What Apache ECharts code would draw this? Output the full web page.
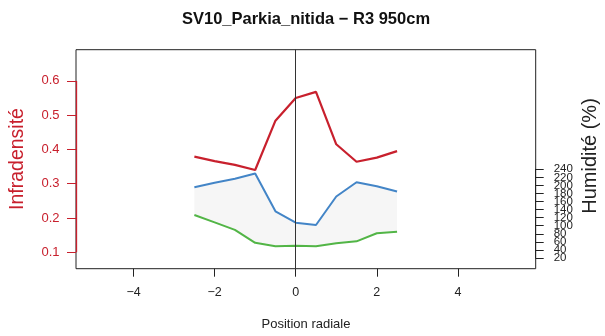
<!DOCTYPE html>
<html>
<head>
<meta charset="utf-8">
<script src="https://cdn.jsdelivr.net/npm/echarts@6/dist/echarts.min.js"></script>
<style>html,body{margin:0;padding:0;background:#fff}#c{width:605px;height:336px}</style>
</head>
<body>
<div id="c"></div>
<script>
var positions = [-2.5, -2, -1.5, -1, -0.5, 0, 0.5, 1, 1.5, 2, 2.5];
var infradensite = [0.379, 0.366, 0.355, 0.340, 0.484, 0.550, 0.568, 0.415, 0.364, 0.376, 0.395];
var humiditeHaut = [195.6, 206.8, 216.7, 229.6, 135.8, 107.5, 101.8, 172.5, 208.0, 197.8, 184.9];
var humiditeBas = [126.6, 108.5, 89.9, 57.7, 49.3, 50.5, 49.3, 56.7, 61.4, 81.3, 85.2];
var xTicks = [-4, -2, 0, 2, 4];
var yTicks = [0.1, 0.2, 0.3, 0.4, 0.5, 0.6];
var hTicks = [20, 40, 60, 80, 100, 120, 140, 160, 180, 200, 220, 240];

var FONT = 'Liberation Sans';
var RED = '#C8202D', BLUE = '#4385C7', GREEN = '#52B546';
var xMin = -5.42, xMax = 5.92;

function pts(ys) { return positions.map(function (x, i) { return [x, ys[i]]; }); }
var hTicksA = hTicks.filter(function (v, i) { return i % 2 === 0; });
var hTicksB = hTicks.filter(function (v, i) { return i % 2 === 1; });

function hAxis(labels, showLine) {
  return {gridIndex: 1, type: 'value', position: 'right', min: 20, max: 240, splitLine: {show: false},
    axisLine: {show: showLine, onZero: false, lineStyle: {color: '#222'}},
    axisTick: {show: showLine, length: 8, customValues: hTicks, lineStyle: {color: '#222'}},
    axisLabel: {customValues: labels, margin: 18, color: '#222', fontFamily: FONT, fontSize: 11.5,
      hideOverlap: false, showMinLabel: true, showMaxLabel: true}};
}

var chart = echarts.init(document.getElementById('c'), null, {renderer: 'canvas'});
chart.setOption({
  animation: false,
  backgroundColor: '#fff',
  grid: [
    {left: 76, right: 69.3, top: 49.7, bottom: 67.3, show: true, borderColor: '#222', borderWidth: 1, backgroundColor: 'transparent'},
    {left: 76, right: 69.3, top: 169.3, bottom: 78, show: false}
  ],
  xAxis: [
    {gridIndex: 0, type: 'value', min: xMin, max: xMax, splitLine: {show: false},
     axisLine: {show: false, onZero: false},
     axisTick: {show: true, length: 8, customValues: xTicks, lineStyle: {color: '#222'}},
     axisLabel: {customValues: xTicks, margin: 17, color: '#222', fontFamily: FONT, fontSize: 12.5,
       formatter: function (v) { return String(v).replace('-', '\u2212'); }}},
    {gridIndex: 1, type: 'value', min: xMin, max: xMax, show: false, axisLine: {onZero: false}}
  ],
  yAxis: [
    {gridIndex: 0, type: 'value', position: 'left', min: 0.052, max: 0.691, splitLine: {show: false},
     axisLine: {show: false, onZero: false},
     axisTick: {show: true, length: 9, customValues: yTicks, lineStyle: {color: RED}},
     axisLabel: {customValues: yTicks, margin: 16.5, color: RED, fontFamily: FONT, fontSize: 13,
       formatter: function (v) { return v.toFixed(1); }}},
    hAxis(hTicksA, true),
    hAxis(hTicksB, false)
  ],
  series: [
    {type: 'custom', xAxisIndex: 1, yAxisIndex: 1, data: [0], silent: true, clip: false, z: 1,
     renderItem: function (params, api) {
       var poly = [];
       for (var i = 0; i < positions.length; i++) poly.push(api.coord([positions[i], humiditeHaut[i]]));
       for (var j = positions.length - 1; j >= 0; j--) poly.push(api.coord([positions[j], humiditeBas[j]]));
       return {type: 'polygon', shape: {points: poly}, style: {fill: '#F6F6F6', stroke: null}};
     }},
    {type: 'line', xAxisIndex: 1, yAxisIndex: 1, data: pts(humiditeBas), symbol: 'none',
     lineStyle: {color: GREEN, width: 2}, clip: false, z: 3},
    {type: 'line', xAxisIndex: 1, yAxisIndex: 1, data: pts(humiditeHaut), symbol: 'none',
     lineStyle: {color: BLUE, width: 2}, clip: false, z: 3},
    {type: 'line', xAxisIndex: 0, yAxisIndex: 0, data: pts(infradensite), symbol: 'none',
     lineStyle: {color: RED, width: 2.2}, clip: false, z: 4,
     markLine: {silent: true, symbol: 'none', label: {show: false}, animation: false, z: 10,
       data: [
         [{coord: [xMin, yTicks[0]], lineStyle: {color: RED, width: 1.3, type: 'solid'}},
          {coord: [xMin, yTicks[yTicks.length - 1]]}],
         {xAxis: 0, lineStyle: {color: '#333', width: 1, type: 'solid'}}
       ]}}
  ],
  graphic: [
    {type: 'text', x: 306, y: 19, style: {text: 'SV10_Parkia_nitida \u2212 R3 950cm', fill: '#111',
      font: 'bold 16.5px "Liberation Sans"', textAlign: 'center', textVerticalAlign: 'middle'}},
    {type: 'text', x: 306, y: 324, style: {text: 'Position radiale', fill: '#222',
      font: '13px "Liberation Sans"', textAlign: 'center', textVerticalAlign: 'middle'}},
    {type: 'text', x: 18, y: 159, rotation: Math.PI / 2, style: {text: 'Infradensit\u00e9', fill: RED,
      font: '19.5px "Liberation Sans"', textAlign: 'center', textVerticalAlign: 'middle'}},
    {type: 'text', x: 590, y: 156, rotation: Math.PI / 2, style: {text: 'Humidit\u00e9 (%)', fill: '#222',
      font: '20px "Liberation Sans"', textAlign: 'center', textVerticalAlign: 'middle'}}
  ]
});
</script>
</body>
</html>
